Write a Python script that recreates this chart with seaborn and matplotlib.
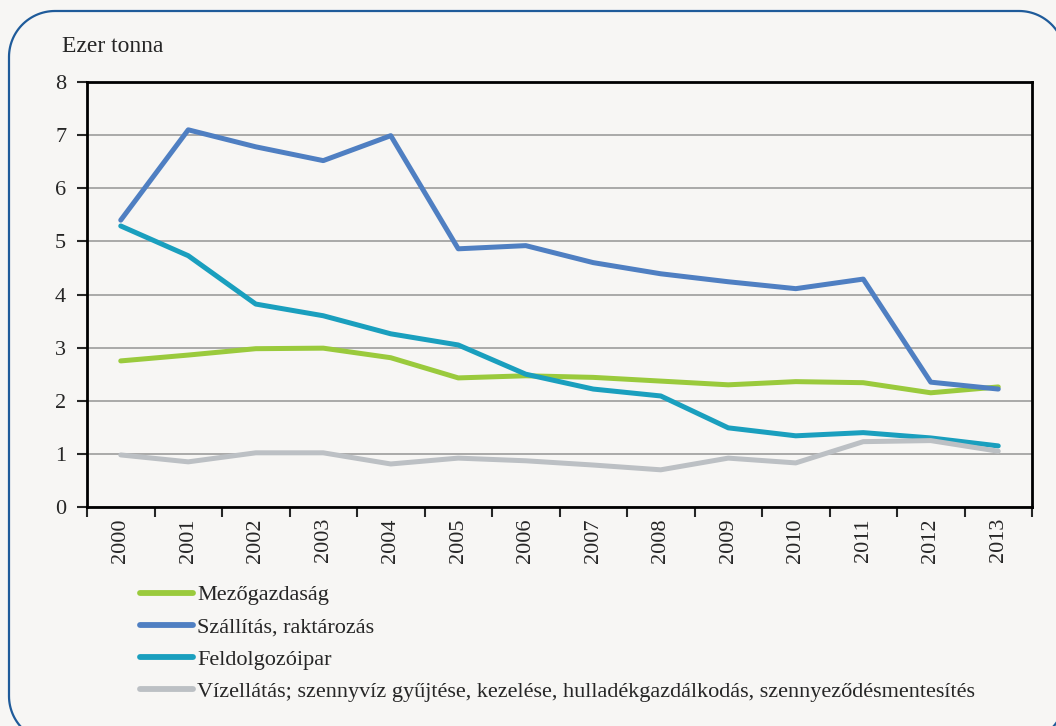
import matplotlib.pyplot as plt
import seaborn as sns
import numpy as np
import pandas as pd
from matplotlib.lines import Line2D
from matplotlib.ticker import FixedLocator

# DATA (ezer tonna)
years = list(range(2000, 2014))
mezogazdasag = [2.75, 2.86, 2.98, 2.99, 2.81, 2.43, 2.47, 2.44, 2.37, 2.30, 2.36, 2.34, 2.15, 2.26]
szallitas = [5.40, 7.10, 6.78, 6.52, 6.99, 4.86, 4.92, 4.60, 4.39, 4.24, 4.11, 4.29, 2.35, 2.22]
feldolgozoipar = [5.29, 4.73, 3.82, 3.60, 3.26, 3.05, 2.50, 2.22, 2.09, 1.49, 1.34, 1.40, 1.30, 1.15]
vizellatas = [0.98, 0.85, 1.02, 1.02, 0.81, 0.92, 0.87, 0.79, 0.70, 0.92, 0.83, 1.23, 1.25, 1.05]

labels = ['Mezőgazdaság', 'Szállítás, raktározás', 'Feldolgozóipar',
          'Vízellátás; szennyvíz gyűjtése, kezelése, hulladékgazdálkodás, szennyeződésmentesítés']
colors = ['#9aca3c', '#4f7fc2', '#1a9fbe', '#bcc0c4']

df = pd.DataFrame({
    'Év': years * 4,
    'Érték': mezogazdasag + szallitas + feldolgozoipar + vizellatas,
    'Ágazat': [l for l in labels for _ in years],
})

# STYLE
bg = '#f7f6f4'
sns.set_style('white')
plt.rcParams['font.family'] = ['Liberation Serif', 'DejaVu Serif']
fs = 16

fig = plt.figure(figsize=(10.56, 7.26), dpi=100, facecolor=bg)
ax = fig.add_axes([87 / 1056, 1 - 507 / 726, (1032 - 87) / 1056, (507 - 82) / 726])
ax.set_facecolor(bg)

# rounded frame around the whole chart, in pixels (runs off right and bottom edges)
x0, x1, y0, y1, r = 9, 1065, -16, 715, 46
corners = [((x1 - r, y1 - r), 0), ((x0 + r, y1 - r), 90), ((x0 + r, y0 + r), 180), ((x1 - r, y0 + r), 270)]
px, py = [], []
for (cx, cy), a0 in corners:
    t = np.radians(np.linspace(a0, a0 + 90, 30))
    px += list(cx + r * np.cos(t))
    py += list(cy + r * np.sin(t))
px.append(px[0])
py.append(py[0])
fig.add_artist(Line2D(px, py, transform=None, color='#1f5b9a', linewidth=1.6))

sns.lineplot(data=df, x='Év', y='Érték', hue='Ágazat', palette=colors,
             linewidth=3.6, ax=ax, legend=False)

# AXES
ax.set_xlim(1999.5, 2013.5)
ax.set_ylim(0, 8)
ax.set_yticks(range(0, 9))
ax.yaxis.grid(True, color='#a3a3a3', linewidth=1.3)
ax.set_axisbelow(True)
ax.xaxis.set_major_locator(FixedLocator(years))
ax.set_xticklabels([str(y) for y in years], rotation=90)
ax.xaxis.set_minor_locator(FixedLocator(np.arange(1999.5, 2014, 1)))
ax.tick_params(axis='x', which='major', length=0, pad=8, labelsize=fs)
ax.tick_params(axis='x', which='minor', length=7, width=1.5, direction='out', bottom=True)
ax.tick_params(axis='y', length=7, width=1.5, direction='out', left=True, pad=8, labelsize=fs)
for s in ax.spines.values():
    s.set_color('black')
    s.set_linewidth(2)
ax.set_xlabel('')
ax.set_ylabel('')

fig.text(62 / 1056, 1 - 46 / 726, 'Ezer tonna', fontsize=fs + 1, va='center', ha='left')

# LEGEND
handles = [Line2D([], [], color=c, linewidth=4.2, solid_capstyle='round') for c in colors]
fig.legend(handles, labels, loc='upper left', bbox_to_anchor=(131 / 1056, 1 - 576 / 726),
           frameon=False, fontsize=fs, handlelength=2.4, handletextpad=0.18,
           labelspacing=0.52, borderaxespad=0)

plt.savefig('out.png', dpi=100, facecolor=bg)
